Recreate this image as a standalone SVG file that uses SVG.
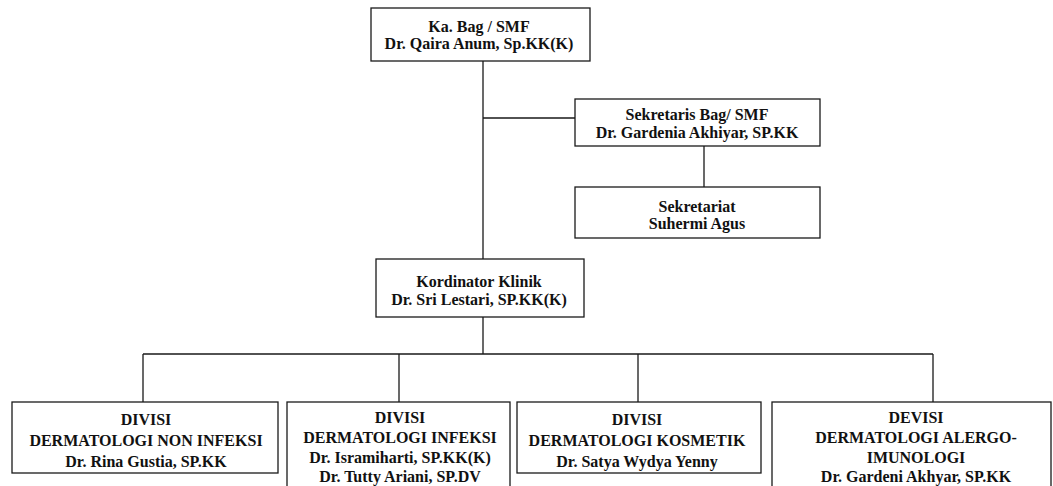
<svg xmlns="http://www.w3.org/2000/svg" width="1053" height="486" viewBox="0 0 1053 486">
<style>
.box{fill:#fff;stroke:#1a1a1a;stroke-width:1.3}
.ln{fill:none;stroke:#1a1a1a;stroke-width:1.3}
text{font-family:"Liberation Serif","Times New Roman",serif;font-weight:bold;font-size:16px;fill:#111;text-anchor:middle;dominant-baseline:central}
</style>
<rect width="1053" height="486" fill="#fff"/>
<g id="connectors">
<path class="ln" d="M483 61V259M483 118H575M704 146V187M483 317V354M143 354H933M143 354V402M399 354V402M638 354V402M933 354V402"/>
</g>
<g id="kabag"><rect class="box" x="371" y="8" width="219" height="53"/><text x="479" y="26">Ka. Bag / SMF</text><text x="479" y="43">Dr. Qaira Anum, Sp.KK(K)</text></g>
<g id="sekretaris"><rect class="box" x="575" y="99" width="245" height="47"/><text x="697" y="114">Sekretaris Bag/ SMF</text><text x="697" y="132">Dr. Gardenia Akhiyar, SP.KK</text></g>
<g id="sekretariat"><rect class="box" x="575" y="187" width="245" height="51"/><text x="697" y="206">Sekretariat</text><text x="697" y="223">Suhermi Agus</text></g>
<g id="kordinator"><rect class="box" x="376" y="259" width="208" height="58"/><text x="479" y="281">Kordinator Klinik</text><text x="479" y="299">Dr. Sri Lestari, SP.KK(K)</text></g>
<g id="div1"><rect class="box" x="12" y="402" width="266" height="71"/><text x="146" y="419">DIVISI</text><text x="146" y="440">DERMATOLOGI NON INFEKSI</text><text x="146" y="461">Dr. Rina Gustia, SP.KK</text></g>
<g id="div2"><rect class="box" x="287" y="402" width="223" height="92"/><text x="400" y="417">DIVISI</text><text x="400" y="437">DERMATOLOGI INFEKSI</text><text x="400" y="457">Dr. Isramiharti, SP.KK(K)</text><text x="400" y="476">Dr. Tutty Ariani, SP.DV</text></g>
<g id="div3"><rect class="box" x="517" y="402" width="244" height="71"/><text x="637" y="419">DIVISI</text><text x="637" y="440">DERMATOLOGI KOSMETIK</text><text x="637" y="461">Dr. Satya Wydya Yenny</text></g>
<g id="div4"><rect class="box" x="772" y="402" width="279" height="92"/><text x="916" y="417">DEVISI</text><text x="916" y="437">DERMATOLOGI ALERGO-</text><text x="916" y="457">IMUNOLOGI</text><text x="916" y="476">Dr. Gardeni Akhyar, SP.KK</text></g>
</svg>
